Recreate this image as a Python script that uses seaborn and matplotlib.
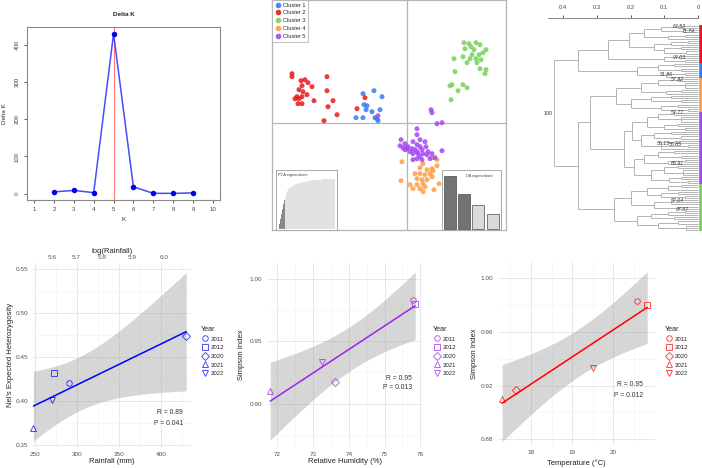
import numpy as np
import pandas as pd
import matplotlib
matplotlib.use("Agg")
import matplotlib.pyplot as plt
import seaborn as sns
from matplotlib.lines import Line2D
from matplotlib.collections import LineCollection
from matplotlib.ticker import MultipleLocator

# ---------------- Delta K (Evanno) ----------------
k_values = [2, 3, 4, 5, 6, 7, 8, 9]
delta_k = [4.6, 8.5, 2.5, 431.0, 18.0, 0.8, 0.5, 1.9]
best_k = 5

# ---------------- DAPC scatter ----------------
cluster_names = ["Cluster 1", "Cluster 2", "Cluster 3", "Cluster 4", "Cluster 5"]
cluster_colors = ["#2f7ff5", "#e8191c", "#78cf5c", "#fd9f44", "#a546f5"]

c1_ld1 = [-4.4, -3.3, -2.5, -4.3, -4.0, -4.1, -3.5, -2.7, -5.1, -4.4, -3.2, -2.9, -3.0]
c1_ld2 = [2.9, 3.2, 2.6, 1.8, 1.7, 1.3, 1.1, 1.3, 0.5, 0.5, 0.5, 0.2, 0.4]

c2_ld1 = [-11.5, -11.5, -10.6, -10.2, -9.9, -10.5, -9.5, -10.8, -10.4, -10.0, -11.0, -11.2, -10.8,
          -10.5, -10.9, -10.5, -9.3, -8.0, -8.0, -7.4, -7.9, -7.0, -8.3, -5.0, -4.2]
c2_ld2 = [4.9, 4.6, 4.2, 4.3, 4.0, 3.7, 3.6, 3.3, 3.1, 2.8, 2.6, 2.4, 2.4,
          2.6, 1.9, 1.9, 2.2, 4.6, 3.2, 2.2, 1.6, 0.8, 0.2, 1.4, 2.5]

c3_ld1 = [5.7, 6.2, 6.9, 7.3, 5.8, 6.4, 6.7, 7.9, 7.6, 7.2, 6.5, 5.6, 4.7, 6.0,
          7.0, 7.4, 7.3, 7.9, 7.8, 4.8, 4.5, 4.3, 5.6, 6.0, 5.1, 4.4, 6.9, 6.3]
c3_ld2 = [8.0, 7.9, 8.0, 7.8, 7.4, 7.6, 7.3, 7.3, 7.0, 6.8, 6.8, 6.6, 6.4, 6.0,
          6.0, 6.3, 5.4, 5.3, 4.9, 5.1, 3.8, 3.7, 3.8, 3.5, 3.2, 2.3, 6.4, 6.4]

c4_ld1 = [-0.5, 1.6, 1.3, 2.0, 2.5, 2.6, 3.0, 0.8, 1.3, 1.8, 2.3, 1.0, 1.5, 2.0,
          2.5, -0.6, 0.3, 0.6, 1.0, 1.6, 1.8, 1.6, 2.7, 3.2, 1.3, 2.5, 3.0]
c4_ld2 = [-3.9, -4.1, -4.5, -4.7, -4.6, -4.8, -4.3, -5.1, -5.1, -5.2, -5.1, -5.6, -5.7, -5.7,
          -5.4, -5.8, -6.2, -6.6, -6.2, -6.1, -6.4, -6.9, -6.7, -6.1, -6.6, -3.5, -3.7]

c5_ld1 = [2.4, 2.5, 3.0, 3.5, 1.0, 1.0, -0.6, -0.7, -0.2, 0.1, 0.5, 0.6, 1.0, 1.3, 1.5, 1.0,
          0.6, 0.3, -0.2, -0.4, 1.6, 2.0, 2.5, 2.8, 1.3, 1.0, 0.6, 1.5, 3.5, 1.8, 1.3, 0.0,
          0.8, 1.1, 2.1, 2.3, 1.9, -2.9]
c5_ld2 = [1.3, 1.0, -0.1, 0.0, -0.6, -1.2, -1.7, -2.3, -2.1, -2.4, -2.6, -1.9, -2.2, -2.4, -2.7, -2.9,
          -3.1, -2.9, -2.7, -2.5, -3.1, -3.2, -3.1, -3.5, -3.4, -3.6, -3.7, -3.7, -2.8, -1.9, -1.7, -2.6,
          -2.7, -3.1, -2.9, -3.6, -2.4, 0.7]

# cumulated variance of the PCA axes (inset), first ones retained
pca_cumvar = [0.10, 0.20, 0.30, 0.40, 0.50, 0.58, 0.64, 0.69, 0.73, 0.76, 0.79, 0.81, 0.83, 0.845,
              0.86, 0.87, 0.88, 0.89, 0.895, 0.90, 0.905, 0.91, 0.915, 0.92, 0.925, 0.93, 0.935,
              0.94, 0.944, 0.948, 0.952, 0.956, 0.96, 0.963, 0.966, 0.969, 0.972, 0.974, 0.976,
              0.978, 0.98, 0.982, 0.984, 0.986, 0.987, 0.988, 0.989, 0.99, 0.991, 0.992, 0.993,
              0.994, 0.995, 0.996, 0.997, 0.998, 0.998, 0.999, 0.999, 1.0]
n_pca_retained = 6
da_eigenvalues = [100, 65, 45, 29]
n_da_retained = 2

# ---------------- dendrogram: (node height, children...), leaf = 0 ----------------
red_tree = (0.267,
            (0.205,
             (0.16, (0.11, (0.06, 0, 0), (0.045, 0, 0)), (0.09, (0.04, 0, 0), 0)),
             (0.13, (0.08, (0.03, 0, 0), 0), (0.10, (0.05, 0, 0), (0.035, 0, 0)))),
            (0.10, (0.056, 0, 0), (0.04, 0, 0)))
blue_tree = (0.18, (0.12, (0.07, 0, 0), (0.05, 0, 0)), (0.095, (0.04, 0, 0), 0))
orange_tree = (0.243,
               (0.17, (0.12, (0.06, 0, 0), (0.04, 0, 0, 0)), (0.095, (0.05, 0, 0), 0)),
               (0.20, (0.14, (0.08, 0, 0), (0.05, 0, 0)), (0.11, (0.06, 0, 0), (0.03, 0, 0))))
purple_tree = (0.22,
               (0.195,
                (0.15, (0.12, (0.07, 0, 0), (0.05, 0, 0, 0)), (0.10, (0.06, 0, 0), (0.04, 0, 0))),
                (0.17, (0.13, (0.08, 0, 0), (0.05, 0, 0)), (0.11, (0.07, 0, 0), (0.03, 0, 0), 0))),
               (0.19,
                (0.16, (0.12, (0.07, 0, 0), (0.05, 0, 0)), (0.09, (0.04, 0, 0), 0)),
                (0.14, (0.10, (0.06, 0, 0), (0.045, 0, 0, 0)), (0.085, (0.05, 0, 0), (0.03, 0, 0)))))
green_tree = (0.25,
              (0.20,
               (0.15, (0.09, (0.05, 0, 0), 0), (0.11, (0.06, 0, 0), (0.04, 0, 0))),
               (0.13, (0.08, 0, 0, 0), (0.055, 0, 0))),
              (0.18,
               (0.14, (0.09, (0.04, 0, 0), 0), (0.07, 0, 0)),
               (0.12, (0.06, 0, 0), (0.035, 0, 0, 0))))
tree_clusters = [red_tree, blue_tree, orange_tree, purple_tree, green_tree]
tree_cluster_colors = ["#e8191c", "#2f7ff5", "#fd9f44", "#a546f5", "#78cf5c"]
full_tree = (0.427, (0.355, red_tree, blue_tree), (0.355, (0.32, orange_tree, purple_tree), green_tree))

boot_labels = ["64.53", "71.74", "94.03", "51.86", "57.82", "54.77", "55.13", "55.85", "65.91",
               "57.04", "87.57"]
boot_height = [0.056, 0.030, 0.056, 0.095, 0.062, 0.062, 0.104, 0.068, 0.062, 0.062, 0.045]
boot_frac = [0.0, 0.028, 0.153, 0.24, 0.26, 0.425, 0.575, 0.58, 0.673, 0.853, 0.90]
root_label = "100"

# ---------------- environment vs diversity ----------------
years = ["2011", "2012", "2020", "2021", "2022"]
year_markers = ["o", "s", "D", "^", "v"]
rainfall = [290, 273, 430, 248, 270]
nei_he = [0.420, 0.432, 0.474, 0.369, 0.401]
humidity = [75.80, 75.86, 73.60, 71.80, 73.25]
temperature = [20.57, 20.82, 17.63, 17.30, 19.50]
simpson = [0.983, 0.980, 0.917, 0.910, 0.933]
T975_DF3 = 3.182

W, H = 702, 468

sns.set_theme(style="white")
plt.rcParams["font.family"] = ["Liberation Sans", "DejaVu Sans"]


def px_axes(fig, left, top, right, bottom, **kw):
    return fig.add_axes([left / W, 1 - bottom / H, (right - left) / W, (bottom - top) / H], **kw)


def count_leaves(node):
    if not isinstance(node, tuple):
        return 1
    return sum(count_leaves(c) for c in node[1:])


def tree_segments(node, counter, segs):
    if not isinstance(node, tuple):
        y = counter[0]
        counter[0] += 1
        return y, 0.0
    h = node[0]
    kids = [tree_segments(c, counter, segs) for c in node[1:]]
    ys = [k[0] for k in kids]
    for ky, kh in kids:
        segs.append([(kh, ky), (h, ky)])
    segs.append([(h, min(ys)), (h, max(ys))])
    return (min(ys) + max(ys)) / 2, h


def env_panel(fig, box, x, y, color, xlabel, ylabel, xlim, ylim, xticks, ymajor,
              stats, stats_pos, legend_left, ylab_x, xlab_y):
    ax = px_axes(fig, *box)
    x = np.asarray(x, float)
    y = np.asarray(y, float)
    slope, icpt = np.polyfit(x, y, 1)
    grid = np.linspace(x.min(), x.max(), 100)
    fit = icpt + slope * grid
    s = np.sqrt(np.sum((y - (icpt + slope * x)) ** 2) / (len(x) - 2))
    se = s * np.sqrt(1 / len(x) + (grid - x.mean()) ** 2 / np.sum((x - x.mean()) ** 2))
    ax.fill_between(grid, fit - T975_DF3 * se, fit + T975_DF3 * se, color="#999999", alpha=0.4,
                    lw=0, zorder=1)
    sns.regplot(x=x, y=y, scatter=False, ci=None, truncate=True, color=color,
                line_kws=dict(lw=1.1, zorder=2), ax=ax)
    for xi, yi, m in zip(x, y, year_markers):
        ax.plot(xi, yi, ls="", marker=m, ms=4, mfc="none", mec=color, mew=0.7, alpha=0.7,
                zorder=3, clip_on=False)
    ax.set_xlim(*xlim)
    ax.set_ylim(*ylim)
    ax.set_xticks(xticks)
    ax.set_xticks([(a + b) / 2 for a, b in zip(xticks[:-1], xticks[1:])]
                  + [xticks[0] - (xticks[1] - xticks[0]) / 2, xticks[-1] + (xticks[1] - xticks[0]) / 2],
                  minor=True)
    ax.set_xlim(*xlim)
    ax.yaxis.set_major_locator(MultipleLocator(ymajor))
    ax.yaxis.set_minor_locator(MultipleLocator(ymajor / 2))
    ax.set_axisbelow(True)
    ax.grid(True, which="major", color="#e4e4e4", lw=0.6)
    ax.grid(True, which="minor", color="#f1f1f1", lw=0.4)
    for sp in ax.spines.values():
        sp.set_visible(False)
    ax.tick_params(which="both", length=0, labelsize=4.6, colors="#555555", pad=3.5)
    ax.set_xlabel(xlabel, fontsize=5.5, color="#222222")
    ax.set_ylabel(ylabel, fontsize=5.5, color="#222222")
    ax.xaxis.set_label_coords(0.5, xlab_y)
    ax.yaxis.set_label_coords(ylab_x, 0.5)
    for txt, yy in zip(stats, stats_pos[1:]):
        ax.text(stats_pos[0], yy, txt, transform=ax.transAxes, ha="right", va="center",
                fontsize=4.9, color="#333333")
    handles = [Line2D([], [], ls="", marker=m, ms=4, mfc="none", mec=color, mew=0.7, alpha=0.7)
               for m in year_markers]
    fig.legend(handles, years, title="Year", loc="upper left",
               bbox_to_anchor=(legend_left / W, 1 - 326 / H), frameon=False, fontsize=4.4,
               title_fontsize=5.1, handletextpad=0.45, labelspacing=0.55, borderpad=0,
               borderaxespad=0, handlelength=1.2, alignment="left")
    return ax


fig = plt.figure(figsize=(W / 100, H / 100), dpi=100)

# ---- A: Delta K ----
ax = px_axes(fig, 27, 27, 220, 200)
sns.lineplot(x=k_values, y=delta_k, ax=ax, color="#4a4aff", lw=1.1, marker="o", markersize=3.2,
             markerfacecolor="#0000ee", markeredgecolor="#0000ee")
ax.axvline(best_k, color="#ff7777", lw=0.8, zorder=0)
ax.set_xlim(0.64, 10.36)
ax.set_ylim(-17.3, 449)
ax.set_xticks(range(1, 11))
ax.set_yticks([0, 100, 200, 300, 400])
ax.tick_params(bottom=True, left=True, direction="out", length=2.5, width=0.6, labelsize=4.4,
               colors="#444444", pad=2.5)
for t in ax.get_yticklabels():
    t.set_rotation(90)
    t.set_va("center")
for sp in ax.spines.values():
    sp.set_color("#8a8a8a")
    sp.set_linewidth(0.8)
ax.set_title("Delta K", fontsize=4.6, fontweight="bold", color="#222222", pad=8)
ax.set_xlabel("K", fontsize=4.6, color="#333333")
ax.set_ylabel("Delta K", fontsize=4.6, color="#333333")
ax.xaxis.set_label_coords(0.5, -0.1)
ax.yaxis.set_label_coords(-0.104, 0.5)

# ---- B: DAPC scatter ----
ax = px_axes(fig, 272, 0, 506, 230)
dapc = pd.DataFrame({
    "LD1": c1_ld1 + c2_ld1 + c3_ld1 + c4_ld1 + c5_ld1,
    "LD2": c1_ld2 + c2_ld2 + c3_ld2 + c4_ld2 + c5_ld2,
    "cluster": ([cluster_names[0]] * len(c1_ld1) + [cluster_names[1]] * len(c2_ld1)
                + [cluster_names[2]] * len(c3_ld1) + [cluster_names[3]] * len(c4_ld1)
                + [cluster_names[4]] * len(c5_ld1)),
})
ax.axhline(0, color="#b5b5b5", lw=0.9, zorder=0)
ax.axvline(0, color="#b5b5b5", lw=0.9, zorder=0)
sns.scatterplot(data=dapc, x="LD1", y="LD2", hue="cluster", hue_order=cluster_names,
                palette=cluster_colors, s=13, alpha=0.85, linewidth=0, legend=False, ax=ax)
ax.set_xlim(-13.5, 9.9)
ax.set_ylim(-10.73, 12.27)
ax.set_xticks([])
ax.set_yticks([])
ax.set_xlabel("")
ax.set_ylabel("")
for sp in ax.spines.values():
    sp.set_color("#b5b5b5")
    sp.set_linewidth(0.9)
handles = [Line2D([], [], ls="", marker="o", ms=3, mfc=c, mec=c, alpha=0.85) for c in cluster_colors]
leg = ax.legend(handles, cluster_names, loc="upper left", fontsize=4.1, frameon=True, fancybox=False,
                edgecolor="#b5b5b5", borderaxespad=0, handletextpad=0.1, labelspacing=0.5,
                handlelength=1.3, borderpad=0.45)
leg.get_frame().set_linewidth(0.8)

# PCA eigenvalues inset
ax_p = px_axes(fig, 276, 170, 337, 230)
ax_p.bar(range(len(pca_cumvar)), pca_cumvar, width=1.0, lw=0,
         color=["#8a8a8a" if i < n_pca_retained else "#e2e2e2" for i in range(len(pca_cumvar))])
ax_p.set_xlim(-3.8, len(pca_cumvar) + 2.2)
ax_p.set_ylim(-0.03, 1.18)
ax_p.set_xticks([])
ax_p.set_yticks([])
for sp in ax_p.spines.values():
    sp.set_color("#aaaaaa")
    sp.set_linewidth(0.7)
ax_p.text(0.04, 0.95, "PCA eigenvalues", transform=ax_p.transAxes, fontsize=2.8, va="top",
          color="#444444")

# DA eigenvalues inset
ax_d = px_axes(fig, 442, 170, 501, 230)
ax_d.bar(range(len(da_eigenvalues)), da_eigenvalues, width=0.85, edgecolor="#4a4a4a", lw=0.5,
         color=["#737373" if i < n_da_retained else "#dadada" for i in range(len(da_eigenvalues))])
ax_d.set_xlim(-0.56, 3.59)
ax_d.set_ylim(-1.9, 110.7)
ax_d.set_xticks([])
ax_d.set_yticks([])
for sp in ax_d.spines.values():
    sp.set_color("#aaaaaa")
    sp.set_linewidth(0.7)
ax_d.text(0.64, 0.9, "DA eigenvalues", transform=ax_d.transAxes, fontsize=2.8, ha="center",
          va="center", color="#444444")

# ---- C: dendrogram ----
n_leaves = count_leaves(full_tree)
leaf_top, leaf_bot = 26, 230
step = (leaf_bot - leaf_top) / (n_leaves - 1)
ax = px_axes(fig, 540, 18, 702, 232)
segs = []
tree_segments(full_tree, [0], segs)
ax.add_collection(LineCollection(segs, colors="#b3b3b3", linewidths=0.7))
start = 0
for tree, col in zip(tree_clusters, tree_cluster_colors):
    n = count_leaves(tree)
    ax.plot([-0.0075, -0.0075], [start - 0.5, start + n - 0.5], color=col, lw=2.6,
            solid_capstyle="butt")
    start += n
for lab, hh, fr in zip(boot_labels, boot_height, boot_frac):
    ax.text(hh, fr * (n_leaves - 1), lab, fontsize=3.8, style="italic", ha="center", va="center",
            color="#333333")
ax.text(0.445, 0.43 * (n_leaves - 1), root_label, fontsize=3.8, ha="center", va="center",
        color="#333333")
ax.set_xlim((698 - 540) / 337, (698 - 702) / 337)
ax.set_ylim((232 - leaf_top) / step, (18 - leaf_top) / step)
ax.xaxis.tick_top()
ax.set_xticks([0.4, 0.3, 0.2, 0.1, 0.0])
ax.set_xticklabels(["0.4", "0.3", "0.2", "0.1", "0"])
ax.set_yticks([])
ax.tick_params(top=True, bottom=False, direction="out", length=2.5, width=0.6, labelsize=4.2,
               colors="#444444", pad=3)
for name, sp in ax.spines.items():
    sp.set_visible(name == "top")
ax.spines["top"].set_color("#8a8a8a")
ax.spines["top"].set_linewidth(0.7)
ax.spines["top"].set_bounds(0.0, 0.445)

# ---- D, E, F: environment regressions ----
ax_r = env_panel(fig, (33, 263, 191, 447), rainfall, nei_he, "#0000ff", "Rainfall (mm)",
                 "Nei's Expected Heterozygosity", (247.6, 435.7), (0.3474, 0.5569),
                 [250, 300, 350, 400], 0.05,
                 ("R = 0.89", "P = 0.041"), (0.949, 0.185, 0.13), 201, -0.123, -0.062)
sec = ax_r.secondary_xaxis("top", functions=(np.log, np.exp))
sec.set_xticks([5.6, 5.7, 5.8, 5.9, 6.0])
sec.tick_params(length=0, labelsize=4.6, colors="#555555", pad=2)
sec.spines["top"].set_visible(False)
sec.set_xlabel("log(Rainfall)", fontsize=5.5, color="#222222", labelpad=1.5)

env_panel(fig, (267, 263, 422, 447), humidity, simpson, "#a020f0", "Relative Humidity (%)",
          "Simpson Index", (71.71, 76.05), (0.8652, 1.0128), [72, 73, 74, 75, 76], 0.05,
          ("R = 0.95", "P = 0.013"), (0.935, 0.375, 0.326), 433, -0.139, -0.062)
env_panel(fig, (498, 262, 655, 445), temperature, simpson, "#ff0000", "Temperature (°C)",
          "Simpson Index", (17.2, 21.01), (0.8758, 1.0119), [18, 19, 20], 0.04,
          ("R = 0.95", "P = 0.012"), (0.924, 0.328, 0.273), 665, -0.127, -0.08)

fig.savefig("out.png", dpi=100)
